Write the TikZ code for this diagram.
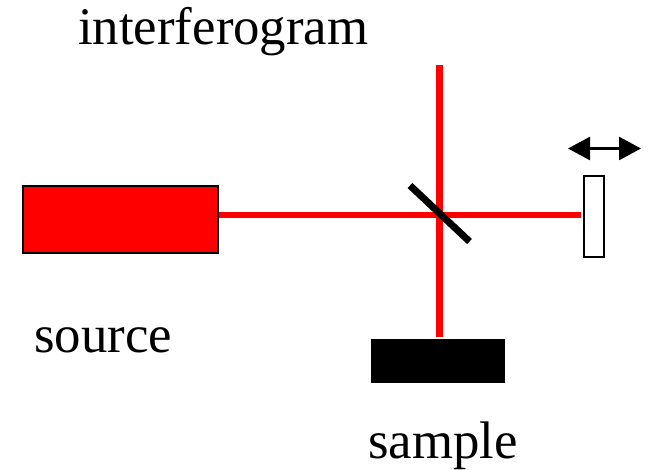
\documentclass[tikz,border=0pt]{standalone}
\usepackage{fontspec}
\setmainfont{Liberation Serif}
\usetikzlibrary{arrows.meta}
\begin{document}
\begin{tikzpicture}[x=1pt,y=-1pt,
 beam/.style={draw=red,line width=6.5pt},
 lbl/.style={inner sep=0pt,font=\fontsize{52.8}{56}\selectfont,text=black}]
\useasboundingbox (0,0) rectangle (650,469);
\coordinate (c) at (439.7,215);
\coordinate (top) at (439.7,65);
\node[draw=black,fill=red,line width=2pt,minimum width=195pt,minimum height=67pt,inner sep=0pt,anchor=north west] (src) at (21.7,184.7) {};
\node[draw=black,fill=black,minimum width=133pt,minimum height=43pt,inner sep=0pt,anchor=north west] (smp) at (371,338.5) {};
\node[draw=black,fill=white,line width=2.4pt,minimum width=20pt,minimum height=81pt,inner sep=0pt,anchor=north west] (mir) at (582.8,174.7) {};
\draw[beam,shorten >=2pt] (src.east |- c) -- (mir.west |- c);
\draw[beam,shorten >=2pt] (top) -- (c |- smp.north);
\coordinate (s1) at (410,185.5);
\coordinate (s2) at (469.5,241.5);
\draw[black,line width=7pt] (s1) -- (s2);
\coordinate (a1) at (568,148.5);
\coordinate (a2) at (641,148.5);
\draw[black,line width=2.8pt,{Triangle[length=22pt,width=23pt]}-{Triangle[length=22pt,width=23pt]}] (a1) -- (a2);
\node[lbl,anchor=base west] (t1) at (78,44.5) {interferogram};
\node[lbl,anchor=base west] (t2) at (34,352) {source};
\node[lbl,anchor=base west] (t3) at (368,458.5) {sample};
\end{tikzpicture}
\end{document}
